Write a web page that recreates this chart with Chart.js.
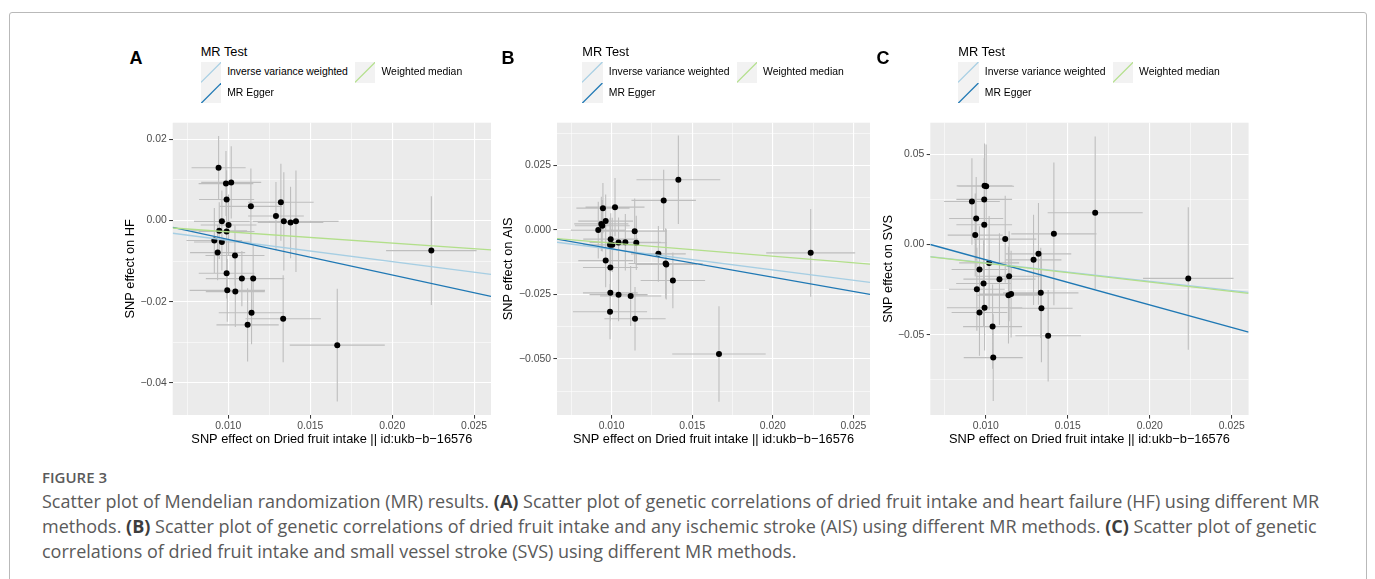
<!DOCTYPE html>
<html lang="en">
<head>
<meta charset="UTF-8">
<title>Figure 3 - MR scatter plots</title>
<script src="https://cdn.jsdelivr.net/npm/chart.js"></script>
<style>
  html, body { margin: 0; padding: 0; background: #fff; }
  body { position: relative; width: 1375px; height: 579px; overflow: hidden; font-family: "Liberation Sans", Arial, sans-serif; }
  .frame { position: absolute; left: 8.5px; top: 11.5px; width: 1358px; height: 640px; border: 1px solid #b9b9b9; border-radius: 3px; box-sizing: border-box; }
  .letter { position: absolute; top: 47.8px; width: 30px; text-align: center; font-size: 18px; line-height: 20px; font-weight: bold; color: #000; }
  .lg-title { position: absolute; top: 43.6px; font-size: 12.8px; line-height: 16px; color: #000; white-space: nowrap; }
  .lg-key { position: absolute; width: 20.4px; height: 20.4px; background-color: #f2f2f2; }
  .lg-key svg { display: block; }
  .lg-label { position: absolute; font-size: 10.4px; line-height: 20.4px; color: #000; white-space: nowrap; }
  .fig-label { position: absolute; left: 42px; top: 466.7px; font-family: "Open Sans", sans-serif; font-size: 15px; line-height: 20px; font-weight: 600; color: #5a5a5a; }
  .caption { position: absolute; left: 42px; top: 489px; font-family: "Open Sans", sans-serif; font-size: 18px; line-height: 25px; color: #5a5a5a; white-space: nowrap; }
  .caption b { font-weight: 700; color: #3d3d3d; }
  canvas { position: absolute; }
</style>
</head>
<body>
<div class="frame"></div>

<div class="fig-label">FIGURE 3</div>
<div class="caption">
  Scatter plot of Mendelian randomization (MR) results. <b>(A)</b> Scatter plot of genetic correlations of dried fruit intake and heart failure (HF) using different MR<br>
  methods. <b>(B)</b> Scatter plot of genetic correlations of dried fruit intake and any ischemic stroke (AIS) using different MR methods. <b>(C)</b> Scatter plot of genetic<br>
  correlations of dried fruit intake and small vessel stroke (SVS) using different MR methods.
</div>

<script>
// --- data (one entry per SNP) ---

// A: heart failure
const hfX   = [0.00941, 0.00986, 0.01018, 0.00990, 0.01138, 0.01321, 0.01291, 0.01339, 0.01380, 0.01413,
               0.00961, 0.01002, 0.00945, 0.00990, 0.00915, 0.00961, 0.00935, 0.01041, 0.00990, 0.01083,
               0.01152, 0.00994, 0.01043, 0.01142, 0.01335, 0.01118, 0.01665, 0.02239];
const hfY   = [0.0130, 0.0091, 0.0094, 0.0052, 0.0035, 0.0045, 0.0011, -0.0002, -0.0005, -0.0002,
               -0.0002, -0.0011, -0.0025, -0.0027, -0.0049, -0.0053, -0.0079, -0.0086, -0.0130, -0.0143,
               -0.0143, -0.0172, -0.0175, -0.0227, -0.0242, -0.0257, -0.0307, -0.0074];
const hfSeX = [0.00165, 0.00167, 0.00183, 0.00168, 0.0019, 0.0020, 0.0017, 0.0019, 0.0020, 0.0026,
               0.0017, 0.0017, 0.0017, 0.0017, 0.0017, 0.0017, 0.00168, 0.0018, 0.0017, 0.0022,
               0.0019, 0.0023, 0.0018, 0.0020, 0.0023, 0.0019, 0.0029, 0.00276];
const hfSeY = [0.0078, 0.0080, 0.0089, 0.0072, 0.0093, 0.0095, 0.0084, 0.0121, 0.0088, 0.0125,
               0.0076, 0.0075, 0.0070, 0.0072, 0.0080, 0.0070, 0.0068, 0.0074, 0.0062, 0.0068,
               0.0082, 0.0077, 0.0087, 0.0078, 0.0107, 0.0090, 0.0139, 0.0134];

// B: any ischemic stroke
const aisX   = [0.01414, 0.01323, 0.00946, 0.01021, 0.00963, 0.00936, 0.00942, 0.00917, 0.01143, 0.00994,
                0.00990, 0.01004, 0.01043, 0.01085, 0.01153, 0.01290, 0.01335, 0.01339, 0.01380, 0.00963,
                0.00992, 0.00992, 0.01043, 0.01118, 0.00990, 0.01145, 0.01666, 0.02235];
const aisY   = [0.0194, 0.0114, 0.0084, 0.0088, 0.0034, 0.0023, 0.0016, -0.0001, -0.0005, -0.0036,
                -0.0058, -0.0058, -0.0049, -0.0048, -0.0050, -0.0093, -0.0130, -0.0134, -0.0196, -0.0119,
                -0.0146, -0.0244, -0.0251, -0.0256, -0.0317, -0.0344, -0.0481, -0.0089];
const aisSeX = [0.0026, 0.0020, 0.00165, 0.00183, 0.0017, 0.00168, 0.0017, 0.0017, 0.0020, 0.0017,
                0.00167, 0.0017, 0.0018, 0.0022, 0.0019, 0.0017, 0.0023, 0.0019, 0.0020, 0.0017,
                0.0017, 0.0017, 0.0018, 0.0019, 0.0023, 0.0019, 0.0029, 0.00276];
const aisSeY = [0.0171, 0.0119, 0.0097, 0.0113, 0.0103, 0.0105, 0.0100, 0.0110, 0.0126, 0.0100,
                0.0105, 0.0105, 0.0097, 0.0109, 0.0105, 0.0108, 0.0136, 0.0136, 0.0108, 0.0103,
                0.0110, 0.0110, 0.0103, 0.0116, 0.0107, 0.0123, 0.0185, 0.0170];

// C: small vessel stroke
const svsX   = [0.00992, 0.01002, 0.00915, 0.00990, 0.00941, 0.00990, 0.00935, 0.01118, 0.01667, 0.01415,
                0.01321, 0.01291, 0.01020, 0.00961, 0.01142, 0.01083, 0.00986, 0.00945, 0.01335, 0.01138,
                0.01154, 0.00992, 0.00961, 0.01339, 0.01041, 0.01380, 0.01045, 0.02235];
const svsY   = [0.0325, 0.0323, 0.0238, 0.0250, 0.0144, 0.0109, 0.0052, 0.0030, 0.0176, 0.0059,
                -0.0052, -0.0085, -0.0102, -0.0139, -0.0176, -0.0192, -0.0216, -0.0248, -0.0268, -0.0281,
                -0.0275, -0.0351, -0.0377, -0.0353, -0.0455, -0.0506, -0.0627, -0.0188];
const svsSeX = [0.0017, 0.0017, 0.0017, 0.0017, 0.00165, 0.0017, 0.00168, 0.0019, 0.0029, 0.0026,
                0.0020, 0.0017, 0.00183, 0.0017, 0.0020, 0.0022, 0.00167, 0.0017, 0.0023, 0.0019,
                0.0019, 0.0023, 0.0017, 0.0019, 0.0018, 0.0020, 0.0018, 0.00276];
const svsSeY = [0.0235, 0.0231, 0.0240, 0.0230, 0.0230, 0.0220, 0.0230, 0.0240, 0.0422, 0.0396,
                0.0282, 0.0250, 0.0260, 0.0240, 0.0250, 0.0254, 0.0240, 0.0230, 0.0250, 0.0268,
                0.0240, 0.0236, 0.0240, 0.0300, 0.0233, 0.0254, 0.0240, 0.0395];

// MR fits, same order as methods
const methods = ['Inverse variance weighted', 'MR Egger', 'Weighted median'];
const methodColors = ['#a6cee3', '#1f78b4', '#b2df8a'];
const hfSlope  = [-0.522, -0.875, -0.278];
const hfInt    = [0.00032, 0.0041, 0];
const aisSlope = [-0.80, -1.10, -0.51];
const aisInt   = [0.0005, 0.00366, 0];
const svsSlope = [-1.02, -2.50, -1.04];
const svsInt   = [0, 0.01652, 0];

// axes
const xRange = [0.00661, 0.02603];
const xMajor = [0.010, 0.015, 0.020, 0.025];
const xMinor = [0.0075, 0.0125, 0.0175, 0.0225];
const xLabels = ['0.010', '0.015', '0.020', '0.025'];
const xTitle = 'SNP effect on Dried fruit intake || id:ukb\u2212b\u221216576';

const hfRange = [-0.0479, 0.0241];
const hfMajor = [-0.04, -0.02, 0, 0.02];
const hfMinor = [-0.03, -0.01, 0.01];
const hfLabels = ['\u22120.04', '\u22120.02', '0.00', '0.02'];

const aisRange = [-0.0717, 0.0415];
const aisMajor = [-0.05, -0.025, 0, 0.025];
const aisMinor = [-0.0625, -0.0375, -0.0125, 0.0125, 0.0375];
const aisLabels = ['\u22120.050', '\u22120.025', '0.000', '0.025'];

const svsRange = [-0.0945, 0.0675];
const svsMajor = [-0.05, 0, 0.05];
const svsMinor = [-0.075, -0.025, 0.025];
const svsLabels = ['\u22120.05', '0.00', '0.05'];

// --- page geometry (px) ---
const PLOT_TOP = 122.7, PLOT_BOTTOM = 415, X_TITLE_Y = 439;
const TITLE_SIZE = 12.8, TICK_SIZE = 10.4;
const FONT = 'Liberation Sans';
const SVG_NS = 'http://www.w3.org/2000/svg';

const panelBg = {
  id: 'panelBg',
  beforeDraw(chart) {
    const { ctx, chartArea: a } = chart;
    ctx.save();
    ctx.fillStyle = '#ebebeb';
    ctx.fillRect(a.left, a.top, a.right - a.left, a.bottom - a.top);
    ctx.restore();
  }
};

function isMajor(majors, v) {
  return majors.some(m => Math.abs(m - v) < 1e-9);
}

function axis(range, majors, minors, labels, title, fitSize, horizontal) {
  const ticks = majors.concat(minors).sort((a, b) => a - b);
  return {
    type: 'linear',
    min: range[0],
    max: range[1],
    afterBuildTicks: s => { s.ticks = ticks.map(v => ({ value: v })); },
    afterFit: s => { if (horizontal) s.height = fitSize; else s.width = fitSize; },
    border: { display: false },
    grid: {
      color: '#ffffff',
      lineWidth: c => isMajor(majors, c.tick.value) ? 1.1 : 0.55,
      tickColor: c => isMajor(majors, c.tick.value) ? '#333333' : 'rgba(0,0,0,0)',
      tickLength: 3.6,
      tickWidth: 1
    },
    ticks: {
      autoSkip: false,
      maxRotation: 0,
      padding: horizontal ? 1 : 2.4,
      color: '#4d4d4d',
      font: { family: FONT, size: TICK_SIZE },
      callback: v => {
        const i = majors.findIndex(m => Math.abs(m - v) < 1e-9);
        return i >= 0 ? labels[i] : '';
      }
    },
    title: { display: true, text: title, color: '#000', padding: 0, font: { family: FONT, size: TITLE_SIZE } }
  };
}

function legendKey(color) {
  const svg = document.createElementNS(SVG_NS, 'svg');
  svg.setAttribute('width', '20.4');
  svg.setAttribute('height', '20.4');
  const ln = document.createElementNS(SVG_NS, 'line');
  ln.setAttribute('x1', '0'); ln.setAttribute('y1', '20.4');
  ln.setAttribute('x2', '20.4'); ln.setAttribute('y2', '0');
  ln.setAttribute('stroke', color);
  ln.setAttribute('stroke-width', '1.3');
  svg.appendChild(ln);
  return svg;
}

function makePanel(p) {
  const lineH = TITLE_SIZE * 1.2;
  const left = p.yTitleX - 30, top = 100;
  const width = Math.round(p.plotRight + 10 - left), height = 360;
  const cv = document.createElement('canvas');
  cv.width = width; cv.height = height;
  cv.style.left = left + 'px'; cv.style.top = top + 'px';
  cv.style.width = width + 'px'; cv.style.height = height + 'px';
  document.body.appendChild(cv);

  const yAxisLeft = p.yTitleX - lineH / 2;
  const xAxisBottom = X_TITLE_Y + lineH / 2;

  const vBars = [], hBars = [];
  p.x.forEach((v, i) => {
    const y = p.y[i];
    vBars.push({ x: v, y: y - p.seY[i] }, { x: v, y: y + p.seY[i] }, { x: v, y: null });
    hBars.push({ x: v - p.seX[i], y: y }, { x: v + p.seX[i], y: y }, { x: v, y: null });
  });

  const fits = methods.map((m, k) => ({
    label: m,
    data: xRange.map(xv => ({ x: xv, y: p.intercept[k] + p.slope[k] * xv })),
    showLine: true,
    borderColor: methodColors[k],
    borderWidth: 1.3,
    pointRadius: 0,
    order: 3 - k
  }));

  new Chart(cv, {
    type: 'scatter',
    data: {
      datasets: [
        { data: vBars, showLine: true, spanGaps: false, borderColor: '#bebebe', borderWidth: 1.1, pointRadius: 0, order: 6 },
        { data: hBars, showLine: true, spanGaps: false, borderColor: '#bebebe', borderWidth: 1.1, pointRadius: 0, order: 5 },
        { data: p.x.map((v, i) => ({ x: v, y: p.y[i] })), pointRadius: 3, backgroundColor: '#000', borderWidth: 0, order: 4 },
        ...fits
      ]
    },
    options: {
      responsive: false,
      animation: false,
      events: [],
      layout: {
        padding: {
          left: yAxisLeft - left,
          top: PLOT_TOP - top,
          right: left + width - p.plotRight,
          bottom: top + height - xAxisBottom
        }
      },
      plugins: { legend: { display: false }, tooltip: { enabled: false } },
      scales: {
        x: axis(xRange, xMajor, xMinor, xLabels, xTitle, xAxisBottom - PLOT_BOTTOM, true),
        y: axis(p.yRange, p.yMajor, p.yMinor, p.yLabels, p.yTitle, p.plotLeft - yAxisLeft, false)
      }
    },
    plugins: [panelBg]
  });

  // panel letter and ggplot-style legend (two columns, filled column-wise)
  const letter = document.createElement('div');
  letter.className = 'letter';
  letter.style.left = (p.letterX - 15) + 'px';
  letter.textContent = p.letter;
  document.body.appendChild(letter);

  const L = p.legendX;
  const t = document.createElement('div');
  t.className = 'lg-title';
  t.style.left = L + 'px';
  t.textContent = 'MR Test';
  document.body.appendChild(t);

  const slots = [[0, 0], [0, 1], [1, 0]]; // [column, row] for each method
  methods.forEach((m, k) => {
    const kx = L + slots[k][0] * 154.3;
    const ky = 62.3 + slots[k][1] * 20.4;
    const key = document.createElement('div');
    key.className = 'lg-key';
    key.style.left = kx + 'px';
    key.style.top = ky + 'px';
    key.appendChild(legendKey(methodColors[k]));
    document.body.appendChild(key);
    const lab = document.createElement('div');
    lab.className = 'lg-label';
    lab.style.left = (kx + 26.5) + 'px';
    lab.style.top = ky + 'px';
    lab.textContent = m;
    document.body.appendChild(lab);
  });
}

makePanel({ letter: 'A', letterX: 136, legendX: 200.7, yTitleX: 130, plotLeft: 172.7, plotRight: 491,
  x: hfX, y: hfY, seX: hfSeX, seY: hfSeY, slope: hfSlope, intercept: hfInt,
  yRange: hfRange, yMajor: hfMajor, yMinor: hfMinor, yLabels: hfLabels, yTitle: 'SNP effect on HF' });

makePanel({ letter: 'B', letterX: 508, legendX: 582.3, yTitleX: 508.3, plotLeft: 557.3, plotRight: 870.3,
  x: aisX, y: aisY, seX: aisSeX, seY: aisSeY, slope: aisSlope, intercept: aisInt,
  yRange: aisRange, yMajor: aisMajor, yMinor: aisMinor, yLabels: aisLabels, yTitle: 'SNP effect on AIS' });

makePanel({ letter: 'C', letterX: 883, legendX: 958.3, yTitleX: 887.7, plotLeft: 930, plotRight: 1248.3,
  x: svsX, y: svsY, seX: svsSeX, seY: svsSeY, slope: svsSlope, intercept: svsInt,
  yRange: svsRange, yMajor: svsMajor, yMinor: svsMinor, yLabels: svsLabels, yTitle: 'SNP effect on SVS' });
</script>
</body>
</html>
